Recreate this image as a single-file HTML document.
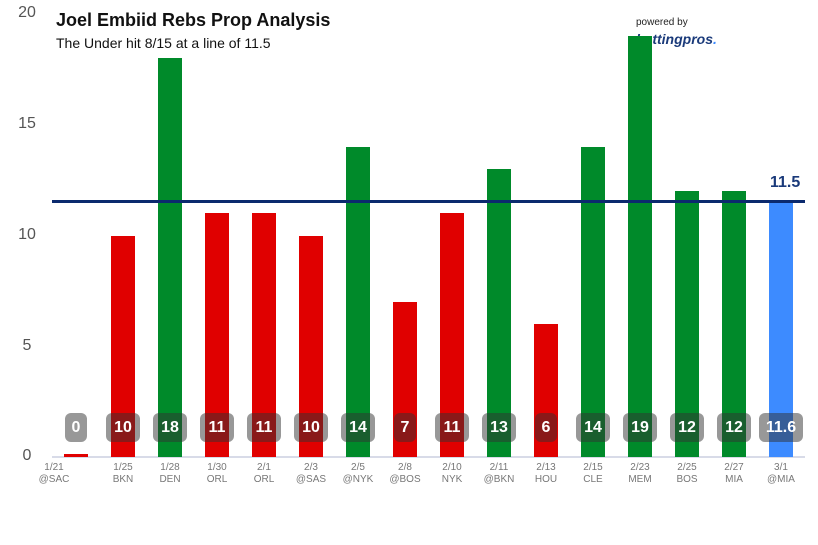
<!DOCTYPE html><html><head><style>
body{margin:0;width:818px;height:545px;background:#fff;position:relative;overflow:hidden;font-family:"Liberation Sans",sans-serif}
.a{position:absolute}
.yt{position:absolute;left:14px;width:26px;text-align:center;font-size:16px;color:#555}
.b{position:absolute;width:24px}
.r{background:#e00000}.g{background:#008a2a}
.l{position:absolute;top:413px;height:29px;border-radius:6px;background:rgba(50,50,50,0.5);color:#fff;font-weight:bold;font-size:16px;text-align:center;line-height:29px}
.x{position:absolute;top:462px;width:50px;text-align:center;font-size:10px;color:#777;line-height:12px}
</style></head><body>
<div class="yt" style="top:4px">20</div>
<div class="yt" style="top:115px">15</div>
<div class="yt" style="top:226px">10</div>
<div class="yt" style="top:337px">5</div>
<div class="yt" style="top:447px">0</div>
<div class="a" style="left:56px;top:10px;font-size:18px;font-weight:bold;color:#111">Joel Embiid Rebs Prop Analysis</div>
<div class="a" style="left:56px;top:35px;font-size:14px;color:#111">The Under hit 8/15 at a line of 11.5</div>
<div class="a" style="left:636px;top:17px;font-size:10px;color:#222">powered by</div>
<div class="a" style="left:636px;top:31px;font-size:14px;font-weight:bold;font-style:italic;color:#1a3a7a">bettingpros<span style="color:#3d8bff">.</span></div>
<div class="a" style="left:52px;top:456px;width:753px;height:2px;background:#d8dbe8"></div>

<div class="b r" style="left:64px;top:454px;height:3px"></div>
<div class="b r" style="left:111px;top:236px;height:221px"></div>
<div class="b g" style="left:158px;top:58px;height:399px"></div>
<div class="b r" style="left:205px;top:213px;height:244px"></div>
<div class="b r" style="left:252px;top:213px;height:244px"></div>
<div class="b r" style="left:299px;top:236px;height:221px"></div>
<div class="b g" style="left:346px;top:147px;height:310px"></div>
<div class="b r" style="left:393px;top:302px;height:155px"></div>
<div class="b r" style="left:440px;top:213px;height:244px"></div>
<div class="b g" style="left:487px;top:169px;height:288px"></div>
<div class="b r" style="left:534px;top:324px;height:133px"></div>
<div class="b g" style="left:581px;top:147px;height:310px"></div>
<div class="b g" style="left:628px;top:36px;height:421px"></div>
<div class="b g" style="left:675px;top:191px;height:266px"></div>
<div class="b g" style="left:722px;top:191px;height:266px"></div>
<div class="b" style="left:769px;top:200px;height:257px;background:#3d8bff"></div>

<div class="l" style="left:65px;width:22px">0</div>
<div class="l" style="left:106px;width:34px">10</div>
<div class="l" style="left:153px;width:34px">18</div>
<div class="l" style="left:200px;width:34px">11</div>
<div class="l" style="left:247px;width:34px">11</div>
<div class="l" style="left:294px;width:34px">10</div>
<div class="l" style="left:341px;width:34px">14</div>
<div class="l" style="left:394px;width:22px">7</div>
<div class="l" style="left:435px;width:34px">11</div>
<div class="l" style="left:482px;width:34px">13</div>
<div class="l" style="left:535px;width:22px">6</div>
<div class="l" style="left:576px;width:34px">14</div>
<div class="l" style="left:623px;width:34px">19</div>
<div class="l" style="left:670px;width:34px">12</div>
<div class="l" style="left:717px;width:34px">12</div>
<div class="l" style="left:759px;width:44px">11.6</div>

<div class="x" style="left:29px">1/21<br>@SAC</div>
<div class="x" style="left:98px">1/25<br>BKN</div>
<div class="x" style="left:145px">1/28<br>DEN</div>
<div class="x" style="left:192px">1/30<br>ORL</div>
<div class="x" style="left:239px">2/1<br>ORL</div>
<div class="x" style="left:286px">2/3<br>@SAS</div>
<div class="x" style="left:333px">2/5<br>@NYK</div>
<div class="x" style="left:380px">2/8<br>@BOS</div>
<div class="x" style="left:427px">2/10<br>NYK</div>
<div class="x" style="left:474px">2/11<br>@BKN</div>
<div class="x" style="left:521px">2/13<br>HOU</div>
<div class="x" style="left:568px">2/15<br>CLE</div>
<div class="x" style="left:615px">2/23<br>MEM</div>
<div class="x" style="left:662px">2/25<br>BOS</div>
<div class="x" style="left:709px">2/27<br>MIA</div>
<div class="x" style="left:756px">3/1<br>@MIA</div>

<div class="a" style="left:52px;top:200px;width:753px;height:3px;background:#0b2a6e"></div>
<div class="a" style="left:770px;top:174px;font-size:16px;font-weight:bold;color:#1a3a7a">11.5</div>
</body></html>
